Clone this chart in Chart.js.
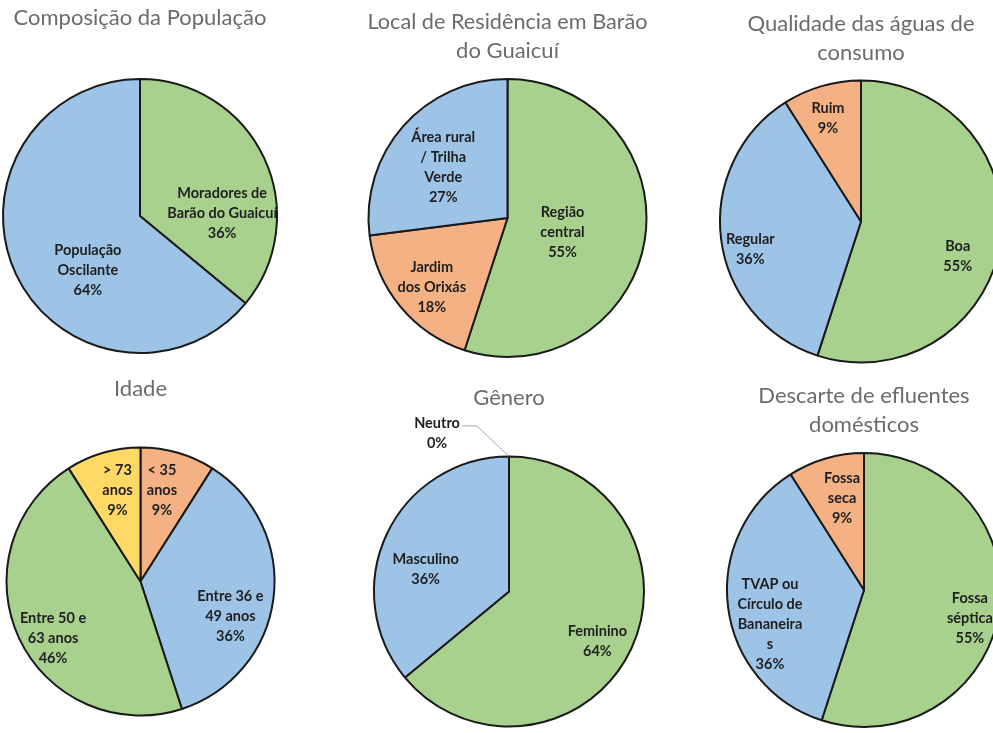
<!DOCTYPE html>
<html>
<head>
<meta charset="utf-8">
<script src="https://cdn.jsdelivr.net/npm/chart.js@4.4.0/dist/chart.umd.min.js"></script>
<style>
    html, body { margin: 0; padding: 0; background: #fff; overflow: hidden; width: 993px; height: 733px; }
    canvas { position: absolute; }
</style>
</head>
<body>
<script>
// ---- dados ----
const popTitle = 'Composição da População';
const popLabels = [['Moradores de', 'Barão do Guaicuí'], ['População', 'Oscilante']];
const popValues = [36, 64];

const resTitle = ['Local de Residência em Barão', 'do Guaicuí'];
const resLabels = [['Região', 'central'], ['Jardim', 'dos Orixás'], ['Área rural', '/ Trilha', 'Verde']];
const resValues = [55, 18, 27];

const aguaTitle = ['Qualidade das águas de', 'consumo'];
const aguaLabels = [['Boa'], ['Regular'], ['Ruim']];
const aguaValues = [55, 36, 9];

const idadeTitle = 'Idade';
const idadeLabels = [['< 35', 'anos'], ['Entre 36 e', '49 anos'], ['Entre 50 e', '63 anos'], ['> 73', 'anos']];
const idadeValues = [9, 36, 46, 9];

const generoTitle = 'Gênero';
const generoLabels = [['Feminino'], ['Masculino'], ['Neutro']];
const generoValues = [64, 36, 0];

const efluTitle = ['Descarte de efluentes', 'domésticos'];
const efluLabels = [['Fossa', 'séptica'], ['TVAP ou', 'Círculo de', 'Bananeira', 's'], ['Fossa', 'seca']];
const efluValues = [55, 36, 9];

// ---- cores ----
const GREEN = '#A9D18E';
const BLUE = '#9DC3E6';
const ORANGE = '#F4B183';
const YELLOW = '#FFD966';

const BORDER_W = 2;
const TITLE_SIZE = 22;
const TITLE_LH = 29;
const LABEL_LH = 20;

// posição de cada gráfico na página (centro, raio, título)
const charts = [
    { id: 'c1', title: popTitle, labels: popLabels, values: popValues, colors: [GREEN, BLUE],
      cx: 140, cy: 216, r: 137, titleY: 18, rowTop: 0, rowH: 366,
      pos: [[0.60, 23], [0.55, -21]] },
    { id: 'c2', title: resTitle, labels: resLabels, values: resValues, colors: [GREEN, ORANGE, BLUE],
      cx: 507.5, cy: 218, r: 139, titleY: 22, rowTop: 0, rowH: 366,
      pos: [[0.41, 6], [0.74, -3], [0.59, -3]] },
    { id: 'c3', title: aguaTitle, labels: aguaLabels, values: aguaValues, colors: [GREEN, BLUE, ORANGE],
      cx: 861, cy: 221.5, r: 141, titleY: 24, rowTop: 0, rowH: 366,
      pos: [[0.73, 11], [0.81, -7], [0.77, -1.5]] },
    { id: 'c4', title: idadeTitle, labels: idadeLabels, values: idadeValues, colors: [ORANGE, BLUE, GREEN, YELLOW],
      cx: 140.5, cy: 581.5, r: 134, titleY: 389, rowTop: 366, rowH: 367,
      pos: [[0.70, -3], [0.72, 14], [0.78, -8], [0.70, 2]] },
    { id: 'c5', title: generoTitle, labels: generoLabels, values: generoValues, colors: [GREEN, BLUE, ORANGE],
      cx: 509, cy: 591.5, r: 135, titleY: 398, rowTop: 366, rowH: 367,
      pos: [[0.75, 4], [0.64, -10], [1.29, -24.4]] },
    { id: 'c6', title: efluTitle, labels: efluLabels, values: efluValues, colors: [GREEN, BLUE, ORANGE],
      cx: 864, cy: 590, r: 137, titleY: 396, rowTop: 366, rowH: 367,
      pos: [[0.80, 6], [0.73, -12.7], [0.69, 2.8]] }
];

// rótulos das fatias (nome + percentual)
const sliceLabels = {
    id: 'sliceLabels',
    afterDatasetsDraw(chart, args, opts) {
        const ctx = chart.ctx;
        const meta = chart.getDatasetMeta(0);
        const values = chart.data.datasets[0].data;
        ctx.save();
        ctx.font = 'bold 14.5px Lato';
        ctx.fillStyle = '#1f1f1f';
        ctx.textAlign = 'center';
        ctx.textBaseline = 'middle';
        meta.data.forEach((arc, i) => {
            const p = arc.getProps(['x', 'y', 'startAngle', 'endAngle', 'outerRadius'], true);
            const [rf, da] = opts.pos[i];
            const mid = (p.startAngle + p.endAngle) / 2;
            const a = mid + da * Math.PI / 180;
            const lx = p.x + Math.cos(a) * rf * p.outerRadius;
            const ly = p.y + Math.sin(a) * rf * p.outerRadius;
            const lines = chart.data.labels[i].concat([values[i] + '%']);
            const top = ly - (lines.length - 1) * LABEL_LH / 2;
            lines.forEach((t, k) => ctx.fillText(t, lx, top + k * LABEL_LH));
            if (values[i] === 0) {
                // fatia vazia: rótulo fora com linha de chamada
                const w = ctx.measureText(lines[0]).width;
                const sx = lx + w / 2 + 2;
                ctx.strokeStyle = '#a6a6a6';
                ctx.lineWidth = 1;
                ctx.beginPath();
                ctx.moveTo(sx, top + 3);
                ctx.lineTo(sx + 15, top + 3);
                ctx.lineTo(p.x + Math.cos(mid) * p.outerRadius, p.y + Math.sin(mid) * p.outerRadius);
                ctx.stroke();
            }
        });
        ctx.restore();
    }
};

charts.forEach(c => {
    const half = 165;
    const left = Math.round(c.cx - half);
    const width = half * 2;
    const s = 2 * c.r + BORDER_W;
    const nLines = Array.isArray(c.title) ? c.title.length : 1;
    const titlePadTop = c.titleY - c.rowTop - TITLE_LH / 2;
    const areaTop = c.cy - s / 2 - c.rowTop;
    const titlePadBottom = areaTop - titlePadTop - nLines * TITLE_LH;

    const canvas = document.createElement('canvas');
    canvas.id = c.id;
    canvas.width = width;
    canvas.height = c.rowH;
    canvas.style.left = left + 'px';
    canvas.style.top = c.rowTop + 'px';
    canvas.style.width = width + 'px';
    canvas.style.height = c.rowH + 'px';
    document.body.appendChild(canvas);

    new Chart(canvas.getContext('2d'), {
        type: 'pie',
        data: {
            labels: c.labels,
            datasets: [{
                data: c.values,
                backgroundColor: c.colors,
                borderColor: '#1a1a1a',
                borderWidth: BORDER_W,
                hoverOffset: 0
            }]
        },
        options: {
            responsive: false,
            animation: false,
            layout: {
                padding: {
                    left: c.cx - s / 2 - left,
                    right: width - (c.cx + s / 2 - left),
                    top: 0,
                    bottom: c.rowH - (c.cy + s / 2 - c.rowTop)
                }
            },
            plugins: {
                legend: { display: false },
                tooltip: { enabled: false },
                title: {
                    display: true,
                    text: c.title,
                    color: '#6b6b6b',
                    font: { family: 'Lato', size: TITLE_SIZE, weight: 'normal', lineHeight: TITLE_LH / TITLE_SIZE },
                    padding: { top: titlePadTop, bottom: titlePadBottom }
                },
                sliceLabels: { pos: c.pos }
            }
        },
        plugins: [sliceLabels]
    });
});
</script>
</body>
</html>
